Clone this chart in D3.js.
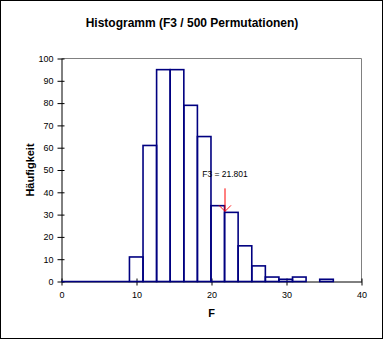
<!DOCTYPE html>
<html>
<head>
<meta charset="utf-8">
<script src="https://cdn.jsdelivr.net/npm/d3@7"></script>
<style>
  html, body { margin: 0; padding: 0; background: #fff; }
  svg { display: block; }
  text { font-family: Arial, "Liberation Sans", sans-serif; }
</style>
</head>
<body>
<svg id="chart" width="384" height="340"></svg>
<script>
// Histogram of F3 over 500 permutations
const binEdges = [9.06, 10.87, 12.68, 14.49, 16.31, 18.12, 19.93, 21.74, 23.55, 25.37, 27.18, 28.99, 30.80, 32.61, 34.43, 36.24];
const binCounts = [11, 61, 95, 95, 79, 65, 34, 31, 16, 7, 2, 1, 2, 0, 1];
const xTicks = [0, 10, 20, 30, 40];
const yTicks = [0, 10, 20, 30, 40, 50, 60, 70, 80, 90, 100];
const observedF3 = 21.801;
const titleText = "Histogramm (F3 / 500 Permutationen)";
const xTitle = "F";
const yTitle = "Häufigkeit";

const svg = d3.select("#chart");
const navy = "#000080";

const x = d3.scaleLinear().domain([0, 40]).range([61.5, 361.5]);
const y = d3.scaleLinear().domain([0, 100]).range([281.5, 58.5]);

// outer frame of the chart
svg.append("rect")
  .attr("x", 0.5).attr("y", 0.5)
  .attr("width", 382).attr("height", 338)
  .attr("fill", "#fff").attr("stroke", "#000").attr("stroke-width", 1);

// plot area border (top / right in grey)
svg.append("path")
  .attr("d", `M${x(0)},${y(100)}H${x(40)}V${y(0)}`)
  .attr("fill", "none").attr("stroke", "#808080").attr("stroke-width", 1);

// axes
const gx = svg.append("g")
  .attr("transform", `translate(0,${y(0)})`)
  .call(d3.axisBottom(x).tickValues(xTicks).tickSize(4).tickSizeOuter(0).tickPadding(6));
gx.selectAll(".tick line").attr("y1", -3);

const gy = svg.append("g")
  .attr("transform", `translate(${x(0)},0)`)
  .call(d3.axisLeft(y).tickValues(yTicks).tickSize(4).tickSizeOuter(0).tickPadding(4));
gy.selectAll(".tick line").attr("x1", 3);

[gx, gy].forEach(g => {
  g.selectAll("text").attr("font-size", 9).attr("font-family", "Arial, 'Liberation Sans', sans-serif").attr("fill", "#000");
  g.selectAll("line, path").attr("stroke", "#000").attr("stroke-width", 1);
});

// histogram bars
const bins = binCounts.map((c, i) => ({ x0: binEdges[i], x1: binEdges[i + 1], count: c }));

svg.append("line")
  .attr("x1", x(0)).attr("x2", x(binEdges[0]))
  .attr("y1", y(0)).attr("y2", y(0))
  .attr("stroke", navy).attr("stroke-width", 1.6);

svg.append("g").selectAll("rect")
  .data(bins)
  .join("rect")
  .attr("x", d => x(d.x0))
  .attr("width", d => x(d.x1) - x(d.x0))
  .attr("y", d => y(d.count))
  .attr("height", d => y(0) - y(d.count))
  .attr("fill", "none")
  .attr("stroke", navy)
  .attr("stroke-width", 1.6);

// marker for the observed statistic
const obsBin = bins.find(b => observedF3 >= b.x0 && observedF3 < b.x1);
const ax = x(observedF3);
const tipY = y(obsBin.count) - 1;
svg.append("line")
  .attr("x1", ax).attr("x2", ax)
  .attr("y1", tipY - 23).attr("y2", tipY)
  .attr("stroke", "#ff0000").attr("stroke-width", 1);
svg.append("path")
  .attr("d", `M${ax - 6},${tipY - 6}L${ax},${tipY}L${ax + 6},${tipY - 6}`)
  .attr("fill", "none").attr("stroke", "#ff0000").attr("stroke-width", 0.9);
svg.append("text")
  .attr("x", ax).attr("y", tipY - 34)
  .attr("text-anchor", "middle")
  .attr("font-size", 8.5)
  .text(`F3 = ${observedF3}`);

// titles
svg.append("text")
  .attr("x", 192).attr("y", 27)
  .attr("text-anchor", "middle")
  .attr("font-size", 12).attr("font-weight", "bold")
  .text(titleText);

svg.append("text")
  .attr("x", (x(0) + x(40)) / 2).attr("y", 317)
  .attr("text-anchor", "middle")
  .attr("font-size", 11).attr("font-weight", "bold")
  .text(xTitle);

svg.append("text")
  .attr("transform", `translate(34,${(y(0) + y(100)) / 2}) rotate(-90)`)
  .attr("text-anchor", "middle")
  .attr("font-size", 11).attr("font-weight", "bold")
  .text(yTitle);
</script>
</body>
</html>
